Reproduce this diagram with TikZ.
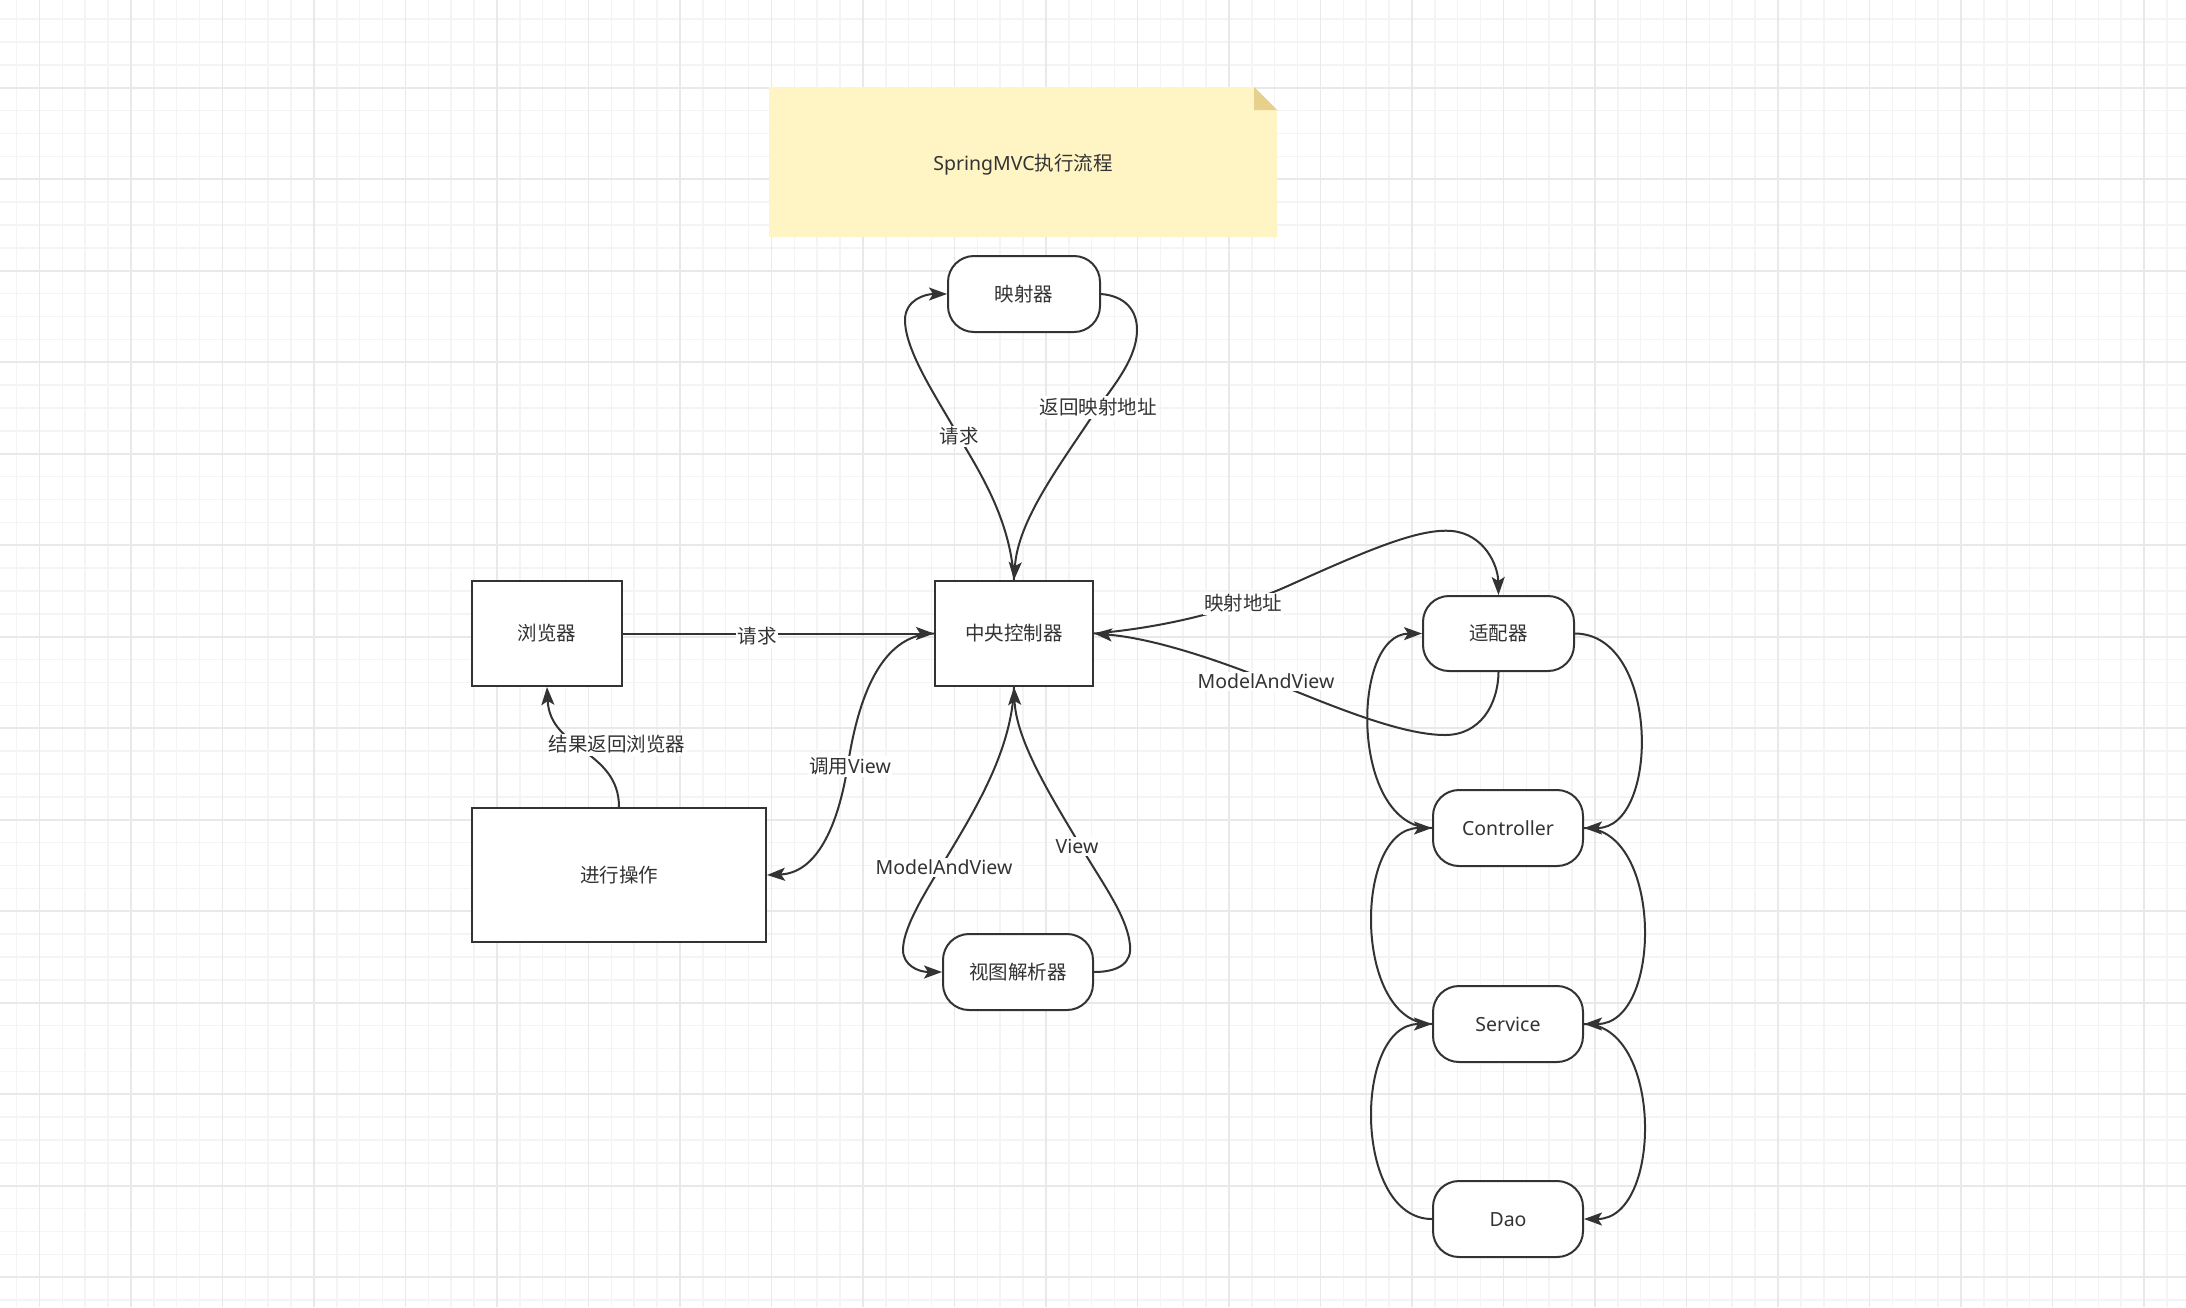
\documentclass[tikz,border=0pt]{standalone}
\usepackage{fontspec}
\setmainfont{Noto Sans}
\newfontfamily\cjk{Noto Sans CJK SC}
\usetikzlibrary{arrows.meta}
\definecolor{ink}{HTML}{333333}
\definecolor{gridminor}{HTML}{F4F4F4}
\definecolor{gridmajor}{HTML}{E9E9E9}
\definecolor{notefill}{HTML}{FFF4C3}
\definecolor{notefold}{HTML}{E6D08C}
\begin{document}
\begin{tikzpicture}[x=1pt,y=-1pt,
  every node/.style={font=\fontsize{19.5}{23}\selectfont, text=ink},
  lowtext/.style={text height=1.45em, text depth=0.02em},
  box/.style={draw=ink, line width=2pt, fill=white, inner sep=0pt, lowtext},
  rbox/.style={box, rounded corners=26pt},
  conn/.style={draw=ink, line width=2pt, -{Stealth[length=18pt,width=13pt,inset=4pt]}},
  lbl/.style={fill=white, inner xsep=1.5pt, inner ysep=2pt, yshift=-2.5pt},
  gmin/.style={draw=gridminor, line width=1.5pt},
  gmaj/.style={draw=gridmajor, line width=1.8pt},
]
\useasboundingbox (0,0) rectangle (2186,1307);
\fill[white] (0,0) rectangle (2186,1307);
% grid
\foreach \i in {0,...,95} \draw[gmin] ({16.6+22.875*\i},0) -- ({16.6+22.875*\i},1307);
\foreach \j in {1,...,57} \draw[gmin] (0,{-3.8+22.875*\j}) -- (2186,{-3.8+22.875*\j});
\foreach \k in {0,...,23} \draw[gmaj] ({39.5+91.5*\k},0) -- ({39.5+91.5*\k},1307);
\foreach \k in {0,...,13} \draw[gmaj] (0,{87.7+91.5*\k}) -- (2186,{87.7+91.5*\k});

% note
\fill[notefill] (769,87) -- (1254,87) -- (1277,110) -- (1277,237) -- (769,237) -- cycle;
\fill[notefold] (1254,87) -- (1277,110) -- (1254,110) -- cycle;
\node[lowtext] (title) at (1023,163) {SpringMVC{\cjk 执行流程}};

% nodes
\node[box, minimum width=158pt, minimum height=105pt] (central) at (1014,633.5) {{\cjk 中央控制器}};
\node[box, minimum width=150pt, minimum height=105pt] (browser) at (547,633.5) {{\cjk 浏览器}};
\node[box, minimum width=294pt, minimum height=134pt] (operate) at (619,875) {{\cjk 进行操作}};
\node[rbox, minimum width=152pt, minimum height=76pt] (mapper) at (1024,294) {{\cjk 映射器}};
\node[rbox, minimum width=150pt, minimum height=76pt] (resolver) at (1018,972) {{\cjk 视图解析器}};
\node[rbox, minimum width=151pt, minimum height=75pt] (adapter) at (1498.5,633.5) {{\cjk 适配器}};
\node[rbox, minimum width=150pt, minimum height=76pt] (controller) at (1508,828) {Controller};
\node[rbox, minimum width=150pt, minimum height=76pt] (service) at (1508,1024) {Service};
\node[rbox, minimum width=150pt, minimum height=76pt] (dao) at (1508,1219) {Dao};

% connectors
\draw[conn] (browser.east) -- (central.west);
\draw[conn] (operate.north) .. controls (619,750) and (550,750) .. (browser.south);
\draw[conn] (central.west) .. controls (880,634) and (858,700) .. (848,764)
  .. controls (838,828) and (816,873) .. (operate.east);
\draw[conn] (central.north) .. controls (1010,515) and (975,465) .. (955,430)
  .. controls (935,395) and (905,350) .. (905,320)
  .. controls (905,300) and (925,294) .. (mapper.west);
\draw[conn] (mapper.east) .. controls (1125,296) and (1137,310) .. (1137,330)
  .. controls (1137,360) and (1110,390) .. (1095,412)
  .. controls (1060,465) and (1018,520) .. (central.north);
\draw[conn] (central.south) .. controls (1012,750) and (975,810) .. (945,860)
  .. controls (920,900) and (903,930) .. (903,950)
  .. controls (903,965) and (918,972) .. (resolver.west);
\draw[conn] (resolver.east) .. controls (1120,972) and (1132,962) .. (1130,945)
  .. controls (1127,915) and (1100,880) .. (1080,845)
  .. controls (1050,795) and (1016,740) .. (central.south);
\draw[conn] (central.east) .. controls (1160,628) and (1230,612) .. (1290,585)
  .. controls (1370,549) and (1420,528) .. (1452,531)
  .. controls (1484,534) and (1498,565) .. (adapter.north);
\draw[conn] (adapter.south) .. controls (1498,705) and (1480,735) .. (1445,735)
  .. controls (1400,735) and (1330,705) .. (1270,681)
  .. controls (1210,657) and (1150,638) .. (central.east);
\draw[conn] (adapter.east) .. controls (1660,634) and (1660,828) .. (controller.east);
\draw[conn] (controller.west) .. controls (1350,828) and (1350,634) .. (adapter.west);
\draw[conn] (controller.east) .. controls (1663,828) and (1663,1024) .. (service.east);
\draw[conn] (service.west) .. controls (1353,1024) and (1353,828) .. (controller.west);
\draw[conn] (service.east) .. controls (1663,1024) and (1663,1219) .. (dao.east);
\draw[conn] (dao.west) .. controls (1353,1219) and (1353,1024) .. (service.west);

% labels
\node[lbl] (l1) at (757,634) {{\cjk 请求}};
\node[lbl] (l2) at (617,742) {{\cjk 结果返回浏览器}};
\node[lbl] (l3) at (850,764) {{\cjk 调用}View};
\node[lbl] (l4) at (959,434) {{\cjk 请求}};
\node[lbl] (l5) at (1098,405) {{\cjk 返回映射地址}};
\node[lbl] (l6) at (944,865) {ModelAndView};
\node[lbl] (l7) at (1077,844) {View};
\node[lbl] (l8) at (1243,601) {{\cjk 映射地址}};
\node[lbl] (l9) at (1266,679) {ModelAndView};
\end{tikzpicture}
\end{document}
